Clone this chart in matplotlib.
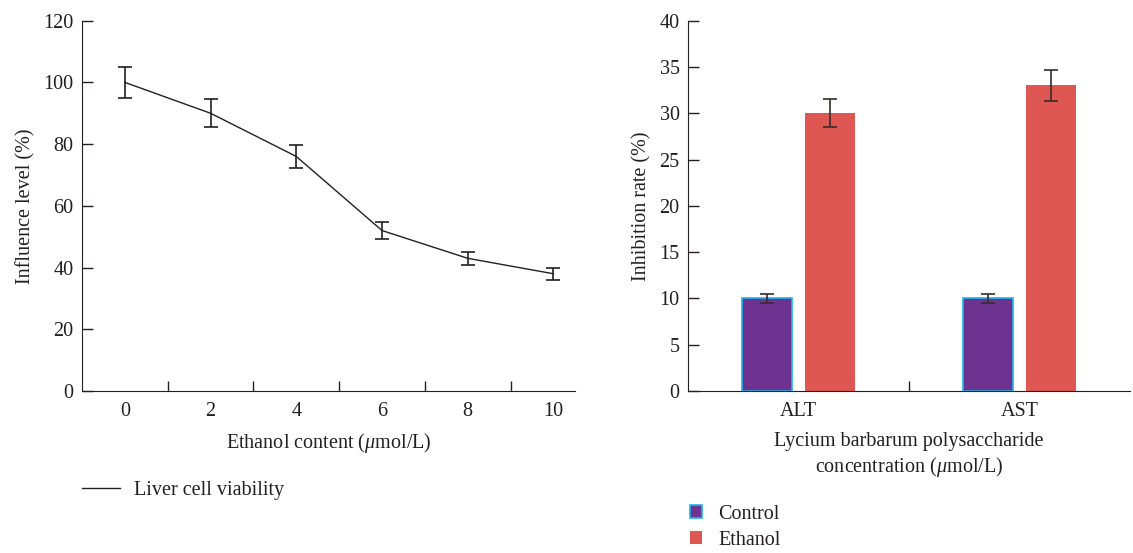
import matplotlib.pyplot as plt
from matplotlib.lines import Line2D
from matplotlib.patches import Patch

# left panel data
ethanol = [0, 2, 4, 6, 8, 10]
viability = [100, 90, 76, 52, 43, 38]
viability_err = [5, 4.5, 3.7, 2.7, 2.2, 2]

# right panel data
enzymes = ['ALT', 'AST']
control = [10, 10]
control_err = [0.5, 0.5]
ethanol_rate = [30, 33]
ethanol_err = [1.5, 1.65]

plt.rcParams['font.family'] = ['Liberation Serif', 'DejaVu Serif']
plt.rcParams['mathtext.fontset'] = 'custom'
plt.rcParams['mathtext.it'] = 'Liberation Serif:italic'
plt.rcParams['mathtext.rm'] = 'Liberation Serif'
txt = '#231F20'
plt.rcParams['text.color'] = txt
plt.rcParams['axes.labelcolor'] = txt
plt.rcParams['xtick.color'] = txt
plt.rcParams['ytick.color'] = txt
plt.rcParams['axes.edgecolor'] = txt
fs = 14.5

fig = plt.figure(figsize=(11.33, 5.53), dpi=100)
ax1 = fig.add_axes([0.0724, 0.2929, 0.435, 0.6697])
ax2 = fig.add_axes([0.6072, 0.2929, 0.3902, 0.6697])

# left: line with error bars
ax1.errorbar(ethanol, viability, yerr=viability_err, color=txt, lw=1.0,
             elinewidth=1.2, capsize=5, capthick=1.2)
ax1.set_xlim(-1, 10.5)
ax1.set_ylim(0, 120)
ax1.set_xticks(ethanol)
ax1.set_xticks([1, 3, 5, 7, 9], minor=True)
ax1.set_yticks(range(0, 121, 20))
ax1.tick_params(axis='x', which='major', length=0, pad=8, labelsize=fs)
ax1.tick_params(axis='x', which='minor', direction='in', length=7, width=1)
ax1.tick_params(axis='y', direction='in', length=8, width=1, pad=6, labelsize=fs)
ax1.set_xlabel('Ethanol content ($\\mu$mol/L)', fontsize=fs, labelpad=7)
ax1.set_ylabel('Influence level (%)', fontsize=fs, labelpad=6)
for s in ['top', 'right']:
    ax1.spines[s].set_visible(False)
ax1.legend(handles=[Line2D([], [], color=txt, lw=1.0)], labels=['Liver cell viability'],
           loc='upper left', bbox_to_anchor=(0.056, 0.163), bbox_transform=fig.transFigure,
           frameon=False, fontsize=fs, handlelength=1.9, handletextpad=0.7)

# right: grouped bars
xs = list(range(len(enzymes)))
w = 0.226
off = 0.143
ax2.bar([x - off for x in xs], control, w, yerr=control_err, color='#6C3391',
        edgecolor='#1EB4E8', linewidth=1.2,
        error_kw=dict(ecolor='#3A2A2A', elinewidth=1.2, capsize=5, capthick=1.2))
ax2.bar([x + off for x in xs], ethanol_rate, w, yerr=ethanol_err, color='#DE5753',
        error_kw=dict(ecolor='#3A2A2A', elinewidth=1.2, capsize=5, capthick=1.2))
ax2.set_xlim(-0.5, 1.5)
ax2.set_ylim(0, 40)
ax2.set_xticks(xs)
ax2.set_xticklabels(enzymes)
ax2.set_xticks([0.5], minor=True)
ax2.set_yticks(range(0, 41, 5))
ax2.tick_params(axis='x', which='major', length=0, pad=8, labelsize=fs)
ax2.tick_params(axis='x', which='minor', direction='in', length=7, width=1)
ax2.tick_params(axis='y', direction='in', length=8, width=1, pad=6, labelsize=fs)
ax2.set_xlabel('Lycium barbarum polysaccharide\nconcentration ($\\mu$mol/L)',
               fontsize=fs, labelpad=8, linespacing=1.2)
ax2.set_ylabel('Inhibition rate (%)', fontsize=fs, labelpad=6)
for s in ['top', 'right']:
    ax2.spines[s].set_visible(False)
ax2.legend(handles=[Patch(facecolor='#6C3391', edgecolor='#1EB4E8', linewidth=1.2),
                    Patch(facecolor='#DE5753')],
           labels=['Control', 'Ethanol'],
           loc='upper left', bbox_to_anchor=(0.593, 0.12), bbox_transform=fig.transFigure,
           frameon=False, fontsize=fs, handlelength=0.6, handleheight=0.6,
           handletextpad=0.8, labelspacing=0.35)

fig.savefig('out.png', dpi=100)
